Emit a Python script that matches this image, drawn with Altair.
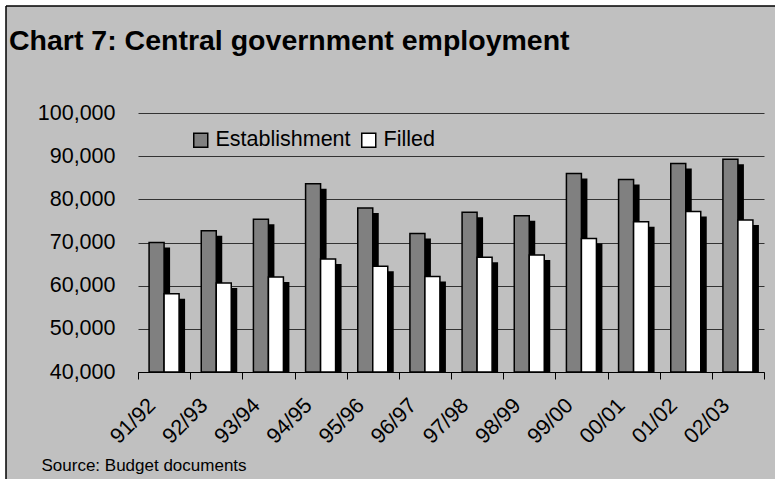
import altair as alt
import pandas as pd

years = ["91/92", "92/93", "93/94", "94/95", "95/96", "96/97",
         "97/98", "98/99", "99/00", "00/01", "01/02", "02/03"]
establishment = [70000, 72700, 75400, 83600, 78000, 72100,
                 77000, 76200, 86000, 84600, 88300, 89300]
filled = [58100, 60600, 62000, 66200, 64500, 62100,
          66600, 67100, 70900, 74800, 77200, 75200]
series = ["Establishment", "Filled"]
series_colors = ["#808080", "#FFFFFF"]
y_ticks = [40000, 50000, 60000, 70000, 80000, 90000, 100000]

df = pd.DataFrame({"year": years, "Establishment": establishment, "Filled": filled})

FONT = "Liberation Sans"
W, H = 626, 259
LEFT, TOP = 138, 113

x_enc = alt.X(
    "year:N", sort=years,
    scale=alt.Scale(paddingInner=0, paddingOuter=0),
    axis=alt.Axis(
        title="Source: Budget documents",
        titleFont=FONT, titleFontSize=17, titleFontWeight="normal", titleColor="black",
        titleX=-97, titleY=98, titleAlign="left", titleBaseline="alphabetic", titleAngle=0,
        labelAngle=-45, labelAlign="right", labelBaseline="middle",
        labelFont=FONT, labelFontSize=21.5, labelColor="black",
        labelPadding=23, labelOffset=-12,
        tickBand="extent", tickSize=7, tickColor="black", tickWidth=1,
        domainColor="black", domainWidth=1, grid=False,
    ),
)

def y_enc(field):
    return alt.Y(
        f"{field}:Q",
        scale=alt.Scale(domain=[40000, 100000], zero=False, nice=False),
        axis=alt.Axis(
            title=None, values=y_ticks, format=",.0f",
            labelFont=FONT, labelFontSize=21.5, labelColor="black", labelPadding=23,
            ticks=False, domain=False,
            grid=True, gridColor="#333333", gridWidth=1,
        ),
    )

color_scale = alt.Scale(domain=series, range=series_colors)
legend = alt.Legend(
    title=None, orient="none", legendX=47, legendY=11, direction="horizontal",
    fillColor="#C0C0C0", padding=5,
    labelFont=FONT, labelFontSize=21.5, labelColor="black", labelOffset=4,
    symbolType="square", symbolSize=196, symbolStrokeColor="black", symbolStrokeWidth=1.5,
    columnPadding=7,
)

base = alt.Chart(df)
BW = 15

est_shadow = base.mark_bar(width=BW, xOffset=-7.5 + 6, yOffset=5, color="black").encode(
    x=x_enc, y=y_enc("Establishment"), y2=alt.datum(40000))
fil_shadow = base.mark_bar(width=BW, xOffset=7.5 + 6, yOffset=5, color="black").encode(
    x=x_enc, y=y_enc("Filled"), y2=alt.datum(40000))
est_bar = base.transform_calculate(series="'Establishment'").mark_bar(
    width=BW, xOffset=-7.5, stroke="black", strokeWidth=1.5).encode(
    x=x_enc, y=y_enc("Establishment"), y2=alt.datum(40000),
    fill=alt.Fill("series:N", scale=color_scale, legend=legend))
fil_bar = base.transform_calculate(series="'Filled'").mark_bar(
    width=BW, xOffset=7.5, stroke="black", strokeWidth=1.5).encode(
    x=x_enc, y=y_enc("Filled"), y2=alt.datum(40000),
    fill=alt.Fill("series:N", scale=color_scale, legend=legend))

dummy = alt.Chart(pd.DataFrame({"d": [0]}))
white_top = dummy.mark_rect(color="white", clip=False).encode(
    x=alt.value(-LEFT), x2=alt.value(775 - LEFT), y=alt.value(-TOP), y2=alt.value(6 - TOP))
white_left = dummy.mark_rect(color="white", clip=False).encode(
    x=alt.value(-LEFT), x2=alt.value(6 - LEFT), y=alt.value(-TOP), y2=alt.value(479 - TOP))
border_top = dummy.mark_rule(color="black", strokeWidth=1.5, clip=False).encode(
    x=alt.value(6 - LEFT), x2=alt.value(775 - LEFT), y=alt.value(6 - TOP))
border_left = dummy.mark_rule(color="black", strokeWidth=1.5, clip=False).encode(
    x=alt.value(6 - LEFT), y=alt.value(6 - TOP), y2=alt.value(479 - TOP))

chart = alt.layer(
    est_shadow, fil_shadow, est_bar, fil_bar,
    white_top, white_left, border_top, border_left,
).properties(
    width=W, height=H,
    title=alt.TitleParams(
        "Chart 7: Central government employment",
        anchor="start", frame="group", dx=-129, offset=0, dy=78, baseline="alphabetic",
        font=FONT, fontSize=28.5, fontWeight="bold", color="black",
    ),
    autosize=alt.AutoSizeParams(type="none"),
    padding={"left": LEFT, "top": TOP, "right": 775 - LEFT - W, "bottom": 479 - TOP - H},
).configure(
    background="#C0C0C0",
).configure_view(strokeWidth=0)

chart.save("out.html", embed_options={"renderer": "svg", "actions": False})
